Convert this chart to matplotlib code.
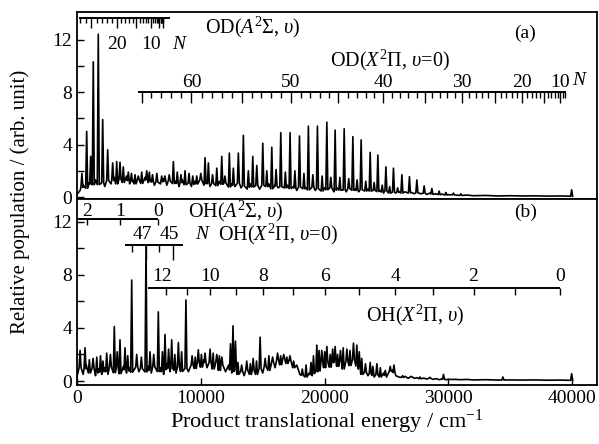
import numpy as np
import matplotlib
matplotlib.use("Agg")
import matplotlib.pyplot as plt

plt.rcParams['font.family'] = 'Liberation Serif'
plt.rcParams['mathtext.fontset'] = 'custom'
plt.rcParams['mathtext.rm'] = 'Liberation Serif'
plt.rcParams['mathtext.it'] = 'Liberation Serif:italic'
plt.rcParams['font.size'] = 14

# ---- spectra: noisy background sampled every 250 cm-1 up to 30000, then a flat tail ----
base_e = np.arange(0, 30001, 250)

od_base = [0.2, 0.5, 0.9, 0.6, 1.1, 0.8, 1.3, 0.9, 1.2,
           0.8, 1.3, 1.0, 1.5, 0.9, 1.4, 1.1, 1.6,
           1.0, 1.3, 0.9, 1.4, 1.0, 1.5, 1.1, 1.3,
           0.9, 1.2, 1.0, 1.4, 0.9, 1.3, 1.0, 1.2,
           0.8, 1.3, 0.9, 1.1, 0.8, 1.2, 0.9, 1.3,
           0.9, 1.2, 0.8, 1.1, 0.8, 1.2, 0.9, 1.1,
           0.7, 1.0, 0.8, 1.1, 0.7, 0.9, 0.6, 1.0,
           0.7, 0.9, 0.6, 0.9, 0.7, 1.0, 0.6, 0.9,
           0.7, 0.8, 0.6, 0.9, 0.6, 0.8, 0.5, 0.8,
           0.6, 0.7, 0.5, 0.8, 0.5, 0.7, 0.4, 0.7,
           0.5, 0.7, 0.4, 0.7, 0.5, 0.6, 0.4, 0.7,
           0.5, 0.6, 0.4, 0.6, 0.4, 0.6, 0.4, 0.5,
           0.4, 0.5, 0.3, 0.5, 0.3, 0.4, 0.3, 0.4,
           0.3, 0.4, 0.3, 0.35, 0.25, 0.35, 0.25, 0.3,
           0.2, 0.3, 0.2, 0.25, 0.18, 0.22, 0.15, 0.18]

oh_base = [0.3, 1.0, 0.5, 1.2, 0.6, 1.1, 0.4, 0.9, 0.5,
           1.0, 0.5, 1.2, 0.6, 1.0, 0.5, 1.1, 0.6,
           1.0, 0.5, 1.2, 0.7, 1.0, 0.5, 1.1, 0.6,
           1.2, 0.6, 1.0, 0.5, 1.3, 0.7, 1.1, 0.6,
           1.2, 0.6, 1.0, 0.7, 1.3, 0.8, 1.5, 0.9,
           1.6, 1.0, 1.4, 0.9, 1.5, 0.8, 1.3, 0.7,
           1.2, 0.6, 0.9, 0.5, 0.8, 0.4, 0.9, 0.5,
           0.8, 0.5, 1.0, 0.6, 1.2, 0.8, 1.5, 1.0,
           1.7, 1.1, 1.8, 1.2, 1.6, 1.0, 1.2, 0.5,
           0.4, 0.3, 0.6, 0.4, 0.8, 0.6, 1.4, 1.0,
           1.6, 0.9, 1.7, 1.0, 1.5, 0.9, 1.6, 1.0,
           1.8, 1.2, 1.0, 0.5, 0.7, 0.4, 0.6, 0.3,
           0.5, 0.3, 0.6, 0.3, 0.7, 0.8, 0.4, 0.3,
           0.25, 0.35, 0.2, 0.3, 0.2, 0.25, 0.15, 0.22,
           0.15, 0.2, 0.12, 0.18, 0.1, 0.15, 0.1, 0.12]

tail_e = [30500, 31000, 31500, 32000, 33000, 34000, 35000, 36000, 37000, 38000, 39000, 39700, 40000]
od_tail = [0.16, 0.12, 0.15, 0.10, 0.12, 0.08, 0.10, 0.08, 0.09, 0.07, 0.08, 0.07, 0.05]
oh_tail = [0.12, 0.10, 0.12, 0.08, 0.10, 0.07, 0.08, 0.07, 0.08, 0.06, 0.07, 0.06, 0.05]

# sharp lines on top of the background (energy in cm-1, height)
od_peak_e = [400, 784, 1107, 1317, 1721, 2077, 2480, 2885, 3208, 3475, 3742, 4146, 4687,
             5228, 5632, 5845, 6845, 7100, 7785, 8727, 9673, 10344, 10613, 11290, 11693,
             12307, 12630, 13034, 13438, 13842, 14198, 14521, 15006, 15329, 15733, 16081,
             16460, 16830, 17210, 17600, 17970, 18330, 18690, 19050, 19420, 19800, 20180,
             20500, 20850, 21230, 21580, 21950, 22280, 22620, 22950, 23320, 23680, 24000,
             24300, 24650, 24950, 25250, 25560, 25900, 26240, 26850, 27450, 28040, 28660,
             29250, 29800, 30400, 31000, 39950]
od_peak_h = [1.8, 5.0, 3.1, 10.3, 12.4, 5.9, 3.6, 2.6, 2.7, 2.65, 2.3, 1.9, 1.7,
             1.9, 2.0, 1.9, 1.6, 1.6, 2.7, 2.0, 1.6, 3.0, 2.6, 2.2, 3.1,
             3.35, 2.2, 3.35, 4.7, 2.0, 3.1, 2.4, 4.1, 2.0, 3.8, 2.1,
             4.9, 1.9, 4.9, 2.0, 4.65, 1.8, 5.4, 1.7, 5.4, 1.6, 5.7,
             1.5, 5.1, 1.5, 5.2, 1.4, 4.6, 1.3, 4.35, 1.2, 3.4, 1.1,
             3.2, 0.9, 2.3, 0.8, 2.2, 0.7, 1.7, 1.55, 1.3, 0.85, 0.65,
             0.45, 0.35, 0.3, 0.25, 0.55]
od_weak_e = [4400, 4950, 6100, 6450, 7450, 8100, 8400, 9050, 9350, 10000, 10950, 11950]
od_weak_h = [1.8, 1.6, 1.7, 1.8, 1.7, 1.9, 1.7, 1.8, 1.6, 1.8, 1.7, 1.6]

oh_peak_e = [250, 650, 1300, 1900, 2400, 3015, 3475, 3880, 4420, 4824, 5576, 5900, 6570,
             7110, 7650, 8190, 8800, 9300, 9800, 10340, 10750, 11290, 11700, 12400, 12600,
             12800, 13300, 13710, 14230, 14790, 15500, 16200, 16700, 17200, 18500, 18900,
             19370, 19770, 20180, 20850, 21500, 22050, 22330, 22600, 23000, 23680, 24220,
             25300, 25600, 26300, 27000, 27700, 28500, 29600, 34400, 39950]
oh_peak_h = [2.3, 2.5, 1.7, 1.9, 2.1, 4.1, 3.1, 2.5, 7.6, 2.0, 10.1, 2.2, 5.2,
             3.5, 3.1, 2.9, 6.1, 1.9, 2.35, 2.1, 2.4, 2.0, 1.8, 2.8, 4.15,
             3.0, 1.2, 1.5, 1.7, 3.3, 1.9, 2.1, 2.0, 1.9, 1.2, 1.4,
             2.7, 2.3, 2.6, 2.6, 2.5, 2.3, 2.85, 2.7, 1.7, 1.4, 1.3,
             1.1, 1.2, 0.4, 0.35, 0.3, 0.28, 0.5, 0.3, 0.55]
oh_weak_e = [1000, 1600, 2100, 2700, 3250, 4100, 5200, 6200, 6900, 7400, 7900, 8450,
             9550, 10050, 11000, 11500, 13000, 14000, 14500, 15200, 15800, 16450, 16950,
             17500, 18200, 19100, 19550, 20000, 20450, 20650, 21050, 21280, 21800, 22800,
             23300, 23900, 24500, 24900]
oh_weak_h = [1.6, 1.8, 1.5, 2.0, 2.2, 1.9, 1.8, 2.0, 2.2, 2.4, 2.0, 2.2,
             1.8, 2.0, 2.1, 1.9, 1.4, 1.3, 1.5, 1.7, 1.8, 1.9, 1.8,
             1.5, 0.9, 1.9, 2.3, 2.2, 2.0, 2.4, 2.0, 2.3, 2.4, 2.2,
             1.3, 1.1, 1.0, 0.8]

# ---- energy combs (cm-1) ----
od_a_n = list(range(0, 28))
od_a_e = [6931, 6913, 6878, 6825, 6754, 6665, 6559, 6435, 6293, 6134, 5956, 5761, 5549, 5319,
          5070, 4805, 4521, 4220, 3901, 3564, 3210, 2838, 2448, 2040, 1615, 1172, 711, 232]

od_x_n = list(range(8, 66))
od_x_e = [39414, 39232, 39030, 38809, 38568, 38307, 38027, 37728, 37410, 37073, 36718, 36344,
          35952, 35542, 35114, 34669, 34207, 33728, 33232, 32719, 32191, 31647, 31087, 30513,
          29924, 29320, 28702, 28071, 27427, 26770, 26100, 25419, 24726, 24023, 23308, 22584,
          21850, 21107, 20355, 19596, 18828, 18054, 17274, 16487, 15696, 14900, 14099, 13296,
          12489, 11681, 10870, 10059, 9248, 8437, 7628, 6820, 6015, 5214]

oh_a_v = [2, 1, 0]
oh_a_e = [784, 3475, 6570]

oh_x0_n = [48, 47, 46, 45]
oh_x0_e = [4420, 5576, 6650, 7780]

oh_xv_v = [12, 11, 10, 9, 8, 7, 6, 5, 4, 3, 2, 1, 0]
oh_xv_e = [7192, 8913, 10748, 12849, 15055, 17479, 20041, 22813, 25697, 28793, 32025, 35395, 39031]


def spectrum(base_v, tail_v, peak_e, peak_h, half=80):
    # background points, minus those that fall under a line
    e_all = np.concatenate([base_e, tail_e]).astype(float)
    v_all = np.concatenate([base_v, tail_v]).astype(float)
    pe = np.array(peak_e, dtype=float)
    keep = np.array([np.all(np.abs(pe - e) > half) for e in e_all])
    xs = list(e_all[keep])
    ys = list(v_all[keep])
    for e, h in zip(peak_e, peak_h):
        b = np.interp(e, e_all, v_all)
        xs += [e - half, e, e + half]
        ys += [b, h, b]
    order = np.argsort(xs)
    return np.array(xs)[order], np.array(ys)[order]


def comb(ax, energies, y, x0, x1, long_mask, short_len, long_len):
    ax.plot([x0, x1], [y, y], color='k', lw=1.4, solid_capstyle='butt')
    lens = np.where(long_mask, long_len, short_len)
    ax.vlines(energies, y - lens, y, color='k', lw=1.0)


fig = plt.figure(figsize=(5.99, 4.44), dpi=100)
ax_a = fig.add_axes([0.1285, 0.5518, 0.8682, 0.4212])
ax_b = fig.add_axes([0.1285, 0.1329, 0.8682, 0.4189])

for ax in (ax_a, ax_b):
    ax.set_xlim(0, 42000)
    ax.set_yticks([0, 4, 8, 12])
    ax.set_yticks([2, 6, 10], minor=True)
    ax.tick_params(axis='y', which='both', direction='in', length=5, width=1.0,
                   right=False, labelsize=14)
    for s in ax.spines.values():
        s.set_linewidth(1.3)

ax_a.set_ylim(-0.15, 14.1)
ax_b.set_ylim(-0.3, 13.7)
ax_a.tick_params(axis='x', which='both', bottom=False, labelbottom=False)
ax_b.set_xticks([0, 10000, 20000, 30000, 40000])
ax_b.tick_params(axis='x', direction='in', length=5, width=1.0, labelsize=14, top=False)

# panel (a): OD
x, y = spectrum(od_base, od_tail, od_peak_e + od_weak_e, od_peak_h + od_weak_h)
ax_a.plot(x, y, color='k', lw=1.2)

comb(ax_a, od_a_e, 13.62, 150, 7500, np.array(od_a_n) % 5 == 0, 0.38, 0.75)
for n in (20, 10):
    ax_a.text(od_a_e[od_a_n.index(n)], 11.6, str(n), ha='center', va='center')
ax_a.text(8323, 11.6, '$N$', ha='center', va='center')
ax_a.text(10344, 12.95, r'OD($A^2\Sigma$, $\upsilon$)', ha='left', va='center', fontsize=14.5)

comb(ax_a, od_x_e, 7.98, 4950, 39500, np.array(od_x_n) % 5 == 0, 0.42, 0.8)
for n in (60, 50, 40, 30, 20, 10):
    ax_a.text(od_x_e[od_x_n.index(n)], 8.72, str(n), ha='center', va='center')
ax_a.text(40650, 8.9, '$N$', ha='center', va='center')
ax_a.text(20445, 10.44, r'OD($X^2\Pi$, $\upsilon$=0)', ha='left', va='center', fontsize=14.5)
ax_a.text(36200, 12.5, '(a)', ha='center', va='center')

# panel (b): OH
x, y = spectrum(oh_base, oh_tail, oh_peak_e + oh_weak_e, oh_peak_h + oh_weak_h)
ax_b.plot(x, y, color='k', lw=1.2)

comb(ax_b, oh_a_e, 12.17, 0, 6570, np.ones(3, bool), 0.45, 0.45)
for v, e in zip(oh_a_v, oh_a_e):
    ax_b.text(e, 12.74, str(v), ha='center', va='center')
ax_b.text(8970, 12.79, r'OH($A^2\Sigma$, $\upsilon$)', ha='left', va='center', fontsize=14.5)

comb(ax_b, oh_x0_e, 10.23, 3900, 8590, np.array(oh_x0_n) % 2 == 1, 0.5, 1.1)
for n in (47, 45):
    ax_b.text(oh_x0_e[oh_x0_n.index(n)] - 300, 11.0, str(n), ha='center', va='center')
ax_b.text(10182, 11.0, '$N$', ha='center', va='center')
ax_b.text(11394, 11.0, r'OH($X^2\Pi$, $\upsilon$=0)', ha='left', va='center', fontsize=14.5)

comb(ax_b, oh_xv_e, 6.98, 5760, 39031, np.ones(13, bool), 0.47, 0.47)
for v, e in zip(oh_xv_v, oh_xv_e):
    if v % 2 == 0:
        ax_b.text(e - (300 if v == 12 else 0), 7.85, str(v), ha='center', va='center')
ax_b.text(27314, 4.97, r'OH($X^2\Pi$, $\upsilon$)', ha='center', va='center', fontsize=14.5)
ax_b.text(36200, 12.72, '(b)', ha='center', va='center')

fig.text(327 / 599, 1 - 422 / 444, 'Product translational energy / cm$^{-1}$',
         ha='center', va='center', fontsize=16)
fig.text(20 / 599, 1 - 202 / 444, 'Relative population / (arb. unit)',
         ha='center', va='center', rotation=90, fontsize=15)

fig.savefig('out.png', dpi=100)
